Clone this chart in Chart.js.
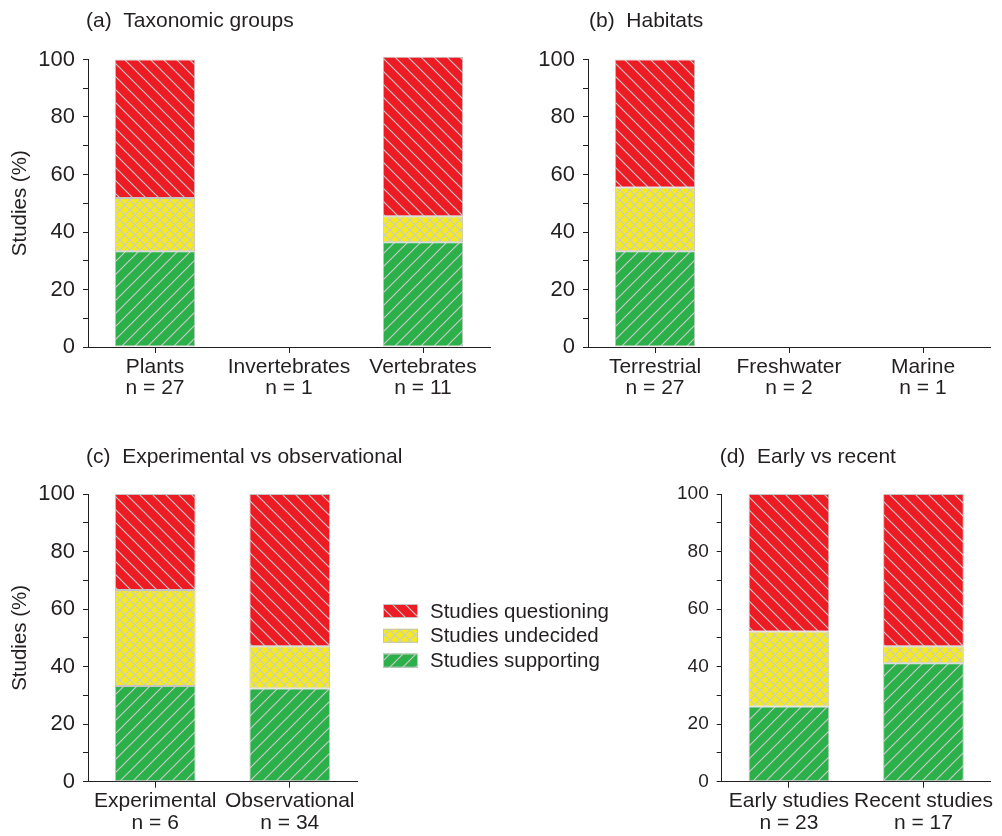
<!DOCTYPE html>
<html><head><meta charset="utf-8">
<script src="https://cdn.jsdelivr.net/npm/chart.js@4"></script>
<style>
html,body{margin:0;padding:0;background:#fff}
body{width:1002px;height:836px;overflow:hidden;position:relative}
canvas{position:absolute}
</style></head><body>
<canvas id="ca" width="500" height="410" style="left:0;top:0"></canvas>
<canvas id="cb" width="502" height="410" style="left:500px;top:0"></canvas>
<canvas id="cc" width="620" height="416" style="left:0;top:420px"></canvas>
<canvas id="cd" width="382" height="416" style="left:620px;top:420px"></canvas>
<script>
// ---------- data ----------
const taxaCategories = [['Plants','n = 27'],['Invertebrates','n = 1'],['Vertebrates','n = 11']];
const taxaSupporting  = [33.3, null, 36.4];
const taxaUndecided   = [18.5, null, 9.1];
const taxaQuestioning = [48.2, null, 55.5];

const habitatCategories = [['Terrestrial','n = 27'],['Freshwater','n = 2'],['Marine','n = 1']];
const habitatSupporting  = [33.3, null, null];
const habitatUndecided   = [22.2, null, null];
const habitatQuestioning = [44.5, null, null];

const methodCategories = [['Experimental','n = 6'],['Observational','n = 34']];
const methodSupporting  = [33.3, 32.4];
const methodUndecided   = [33.3, 14.7];
const methodQuestioning = [33.4, 52.9];

const periodCategories = [['Early studies','n = 23'],['Recent studies','n = 17']];
const periodSupporting  = [26.1, 41.2];
const periodUndecided   = [26.1, 5.9];
const periodQuestioning = [47.8, 52.9];

const seriesLabels = ['Studies supporting','Studies undecided','Studies questioning'];
const yTickValues = [0,20,40,60,80,100];

// ---------- styling ----------
const TXT = '#231f20';
const FAM = "'Liberation Sans', Arial, Helvetica, sans-serif";
Chart.defaults.font.family = FAM;
Chart.defaults.color = TXT;

function hatch(bg, dirs, p){
  const c = document.createElement('canvas'); c.width = p; c.height = p;
  const g = c.getContext('2d');
  g.fillStyle = bg; g.fillRect(0,0,p,p);
  g.strokeStyle = '#cbcbcb'; g.lineWidth = 1.15;
  dirs.forEach(d => {
    for (let k=-1;k<=1;k++){
      g.beginPath();
      if (d === 'b'){ g.moveTo(-p,-p+k*p); g.lineTo(2*p,2*p+k*p); }
      else { g.moveTo(-p,2*p+k*p); g.lineTo(2*p,-p+k*p); }
      g.stroke();
    }
  });
  return g.createPattern(c,'repeat');
}
const greenPat  = hatch('#2bb04a', ['f'], 13);
const yellowPat = hatch('#f5ea1c', ['f','b'], 10);
const redPat    = hatch('#ed1c24', ['b'], 13);
const fills = [greenPat, yellowPat, redPat];

const panelTitle = {
  id:'panelTitle',
  afterDraw(chart, args, o){
    const ctx = chart.ctx; ctx.save();
    ctx.font = "21px " + FAM;
    ctx.fillStyle = TXT; ctx.textBaseline = 'alphabetic'; ctx.textAlign = 'left';
    ctx.fillText(o.text, chart.chartArea.left + o.dx, o.y);
    ctx.restore();
  }
};
const sideLegend = {
  id:'sideLegend',
  afterDraw(chart, args, o){
    if (!o.show) return;
    const ctx = chart.ctx; ctx.save();
    ctx.font = "20.5px " + FAM;
    ctx.textBaseline = 'middle'; ctx.textAlign = 'left';
    const ds = chart.data.datasets.slice().reverse();
    ds.forEach((d,i) => {
      const cy = o.y + i*o.step;
      ctx.fillStyle = d.backgroundColor;
      ctx.fillRect(o.x, cy-7, 35, 14);
      ctx.strokeStyle = '#c4c4c4'; ctx.lineWidth = 1;
      ctx.strokeRect(o.x+0.5, cy-6.5, 34, 13);
      ctx.fillStyle = TXT;
      ctx.fillText(d.label, o.x + 47, cy + 1);
    });
    ctx.restore();
  }
};

function makeChart(id, cats, sup, und, que, cfg){
  const vals = [sup, und, que];
  return new Chart(document.getElementById(id), {
    type:'bar',
    data:{
      labels: cats,
      datasets: vals.map((v,i) => ({
        label: seriesLabels[i], data: v, backgroundColor: fills[i],
        borderColor:'#c4c4c4', borderWidth:1, borderSkipped:false, clip:false,
        barPercentage:0.6, categoryPercentage:1.0
      }))
    },
    options:{
      responsive:false, animation:false, events:[], devicePixelRatio:1,
      layout:{padding:{top:cfg.top, right:cfg.right, bottom:0, left:0}},
      plugins:{
        legend:{display:false}, tooltip:{enabled:false},
        panelTitle:{text:cfg.title, dx:cfg.tdx, y:cfg.ty},
        sideLegend:{show:!!cfg.legend, x:383, y:191, step:24.8}
      },
      scales:{
        x:{
          stacked:true, offset:true,
          grid:{offset:false, drawOnChartArea:false, drawTicks:true, tickLength:6, color:TXT},
          border:{display:true, color:TXT, width:1},
          ticks:{font:{size:21, lineHeight:1.02}, color:TXT, padding:3, maxRotation:0, minRotation:0, autoSkip:false},
          afterFit: s => { s.height = cfg.xh; }
        },
        y:{
          stacked:true, min:0, max:100,
          grid:{drawOnChartArea:false, drawTicks:true, tickLength:5, color:TXT},
          border:{display:true, color:TXT, width:1},
          ticks:{stepSize:10, autoSkip:false, font:{size:cfg.tickSize}, color:TXT, padding:8,
                 callback: v => yTickValues.includes(v) ? String(v) : ''},
          title:{display:!!cfg.ytitle, text:'Studies (%)', font:{size:20.5}, color:TXT, padding:{top:8,bottom:0}},
          afterFit: s => { s.width = cfg.yw; }
        }
      }
    },
    plugins:[panelTitle, sideLegend]
  });
}

makeChart('ca', taxaCategories, taxaSupporting, taxaUndecided, taxaQuestioning,
  {top:59.5, right:10, xh:63, yw:88, tickSize:22, ytitle:true, title:'(a)  Taxonomic groups', tdx:-2, ty:27});
makeChart('cb', habitatCategories, habitatSupporting, habitatUndecided, habitatQuestioning,
  {top:59.5, right:12, xh:63, yw:88, tickSize:22, ytitle:false, title:'(b)  Habitats', tdx:1, ty:27});
makeChart('cc', methodCategories, methodSupporting, methodUndecided, methodQuestioning,
  {top:74, right:263, xh:54.3, yw:88, tickSize:22, ytitle:true, title:'(c)  Experimental vs observational', tdx:-2, ty:43, legend:true});
makeChart('cd', periodCategories, periodSupporting, periodUndecided, periodQuestioning,
  {top:74, right:11.3, xh:54.3, yw:101.7, tickSize:19, ytitle:false, title:'(d)  Early vs recent', tdx:-2, ty:43});
</script>
</body></html>
